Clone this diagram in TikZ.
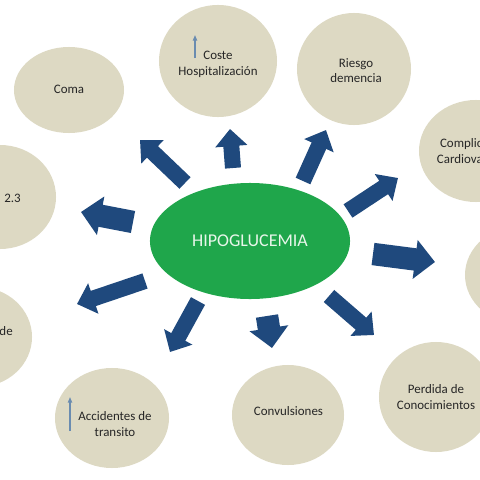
\documentclass[tikz,border=0pt]{standalone}
\usepackage{fontspec}
\setmainfont{Carlito}
\usetikzlibrary{shapes.geometric,arrows.meta}
\definecolor{bubblefill}{HTML}{DDD9C3}
\definecolor{hubgreen}{HTML}{1FA64B}
\definecolor{hubtext}{HTML}{E8F6EA}
\definecolor{arrowblue}{HTML}{1F497D}
\definecolor{thinblue}{HTML}{6A8CB0}

\begin{document}
\begin{tikzpicture}[x=0.025cm,y=-0.025cm,
  bubble/.style={ellipse, fill=bubblefill, inner sep=0pt},
  bubbletext/.style={inner sep=0pt, align=center, text=black!85,
    font=\fontsize{9.2}{11}\selectfont},
  hub/.style={ellipse, fill=hubgreen, inner sep=0pt, text=hubtext,
    font=\fontsize{12.8}{15}\selectfont},
  blkarrow/.style={arrowblue, line width=0.4cm,
    -{Triangle[width=0.78cm,length=0.43cm]}},
  bigarrow/.style={arrowblue, line width=0.56cm,
    -{Triangle[width=0.95cm,length=0.5cm]}},
  thinarrow/.style={thinblue, line width=0.9pt,
    -{Triangle[width=3pt,length=4pt]}}]
  \useasboundingbox (0,0) rectangle (480,480);
  \clip (0,0) rectangle (480,480);
  % outer bubbles
  \node[bubble, minimum width=2.75cm, minimum height=2.15cm] (coma) at (69,90) {};
  \node[bubble, minimum width=2.95cm, minimum height=2.8cm] (coste) at (218,61) {};
  \node[bubble, minimum width=2.85cm, minimum height=2.8cm] (riesgo) at (354,69) {};
  \node[bubble, minimum width=2.85cm, minimum height=2.55cm] (cardio) at (476,151) {};
  \node[bubble, minimum width=2.9cm, minimum height=2.5cm] (derecha) at (523,275) {};
  \node[bubble, minimum width=2.8cm, minimum height=2.6cm] (mort) at (0,197) {};
  \node[bubble, minimum width=2.7cm, minimum height=2.5cm] (caidas) at (-22,337) {};
  \node[bubble, minimum width=2.85cm, minimum height=2.5cm] (accid) at (112,418) {};
  \node[bubble, minimum width=2.8cm, minimum height=2.5cm] (convul) at (288,415) {};
  \node[bubble, minimum width=2.85cm, minimum height=2.75cm] (perdida) at (436,397) {};
  % bubble texts
  \node[bubbletext] (comatxt) at (69,89) {Coma};
  \node[bubbletext] (costetxt) at (218,64.5) {Coste\\Hospitalización};
  \node[bubbletext] (riesgotxt) at (356,70.5) {Riesgo\\demencia};
  \node[bubbletext] (cardiotxt) at (481,151) {Complicaciones\\Cardiovasculares};
  \node[bubbletext, anchor=east] (morttxt) at (21,198) {2.3};
  \node[bubbletext, anchor=east] (caidastxt) at (13,331) {de};
  \node[bubbletext] (accidtxt) at (115,424) {Accidentes de\\transito};
  \node[bubbletext] (convultxt) at (288.5,411) {Convulsiones};
  \node[bubbletext] (perdidatxt) at (436,397) {Perdida de\\Conocimientos};
  % centre
  \node[hub, minimum width=5cm, minimum height=2.9cm] (hipo) at (250,241) {HIPOGLUCEMIA};
  % block arrows
  \coordinate (t1) at (185,183); \coordinate (h1) at (140,140);
  \coordinate (t2) at (233,168); \coordinate (h2) at (230,129);
  \coordinate (t3) at (303,181); \coordinate (h3) at (326,130);
  \coordinate (t4) at (348,211); \coordinate (h4) at (398,178);
  \coordinate (t5) at (373,254); \coordinate (h5) at (435,262);
  \coordinate (t6) at (329,296); \coordinate (h6) at (374,335);
  \coordinate (t7) at (267,316); \coordinate (h7) at (272,348);
  \coordinate (t8) at (198,301); \coordinate (h8) at (170,352);
  \coordinate (t9) at (145,281); \coordinate (h9) at (77,304);
  \coordinate (t10) at (133,222); \coordinate (h10) at (81,212);
  \draw[blkarrow] (t1) -- (h1);
  \draw[blkarrow] (t2) -- (h2);
  \draw[blkarrow] (t3) -- (h3);
  \draw[blkarrow] (t4) -- (h4);
  \draw[bigarrow] (t5) -- (h5);
  \draw[blkarrow] (t6) -- (h6);
  \draw[bigarrow] (t7) -- (h7);
  \draw[blkarrow] (t8) -- (h8);
  \draw[blkarrow] (t9) -- (h9);
  \draw[bigarrow] (t10) -- (h10);
  % small up arrows
  \coordinate (s1) at (195,58); \coordinate (e1) at (195,35);
  \coordinate (s2) at (70,431); \coordinate (e2) at (70,397);
  \draw[thinarrow] (s1) -- (e1);
  \draw[thinarrow] (s2) -- (e2);
\end{tikzpicture}
\end{document}
